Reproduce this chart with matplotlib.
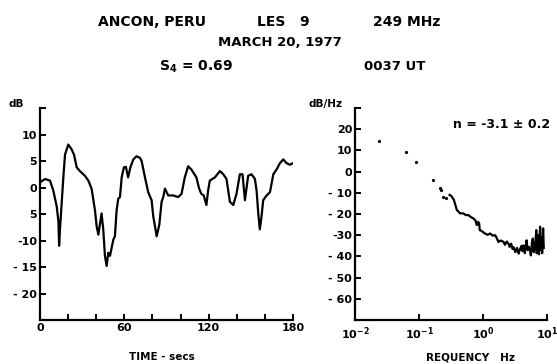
import numpy as np
import matplotlib.pyplot as plt
from matplotlib.ticker import FixedLocator, NullLocator

plt.rcParams['font.family'] = 'DejaVu Sans'
plt.rcParams['font.weight'] = 'bold'

# amplitude record (time in s, level in dB)
t_sec = [0, 3.6, 7.1, 9.5, 11.9, 13.1, 13.6, 14.2, 16.6, 17.8, 20.1, 22.5, 24.2,
         26.1, 28.4, 32.0, 34.4, 36.7, 39.1, 40.3, 41.5, 43.8, 45.0, 46.2, 47.4,
         48.6, 49.8, 52.2, 53.3, 54.5, 55.7, 56.9, 58.1, 59.7, 61.1, 62.7, 64.3,
         66.4, 68.7, 71.1, 72.3, 74.7, 77.0, 79.4, 80.6, 81.8, 83.0, 84.9, 86.5,
         87.7, 88.9, 91.2, 94.8, 98.3, 100.7, 103.0, 105.4, 107.7, 111.3, 113.2,
         114.8, 116.5, 118.4, 119.6, 120.8, 124.4, 128.0, 130.4, 132.7, 135.1,
         137.5, 139.8, 142.2, 144.1, 145.8, 148.1, 150.5, 152.9, 154.1, 155.3,
         156.4, 157.6, 158.8, 161.2, 163.6, 166.0, 168.3, 170.7, 173.1, 175.4,
         177.8, 180.0]
level_db = [1.0, 1.6, 1.3, -0.6, -3.6, -6.4, -11.0, -8.0, 1.9, 6.2, 8.1, 7.2, 6.2,
            3.8, 3.1, 2.2, 1.3, -0.2, -4.3, -7.3, -8.9, -4.9, -7.9, -12.9, -14.8,
            -12.3, -12.9, -9.8, -9.2, -4.3, -2.1, -1.8, 1.9, 3.8, 3.9, 1.9, 3.8,
            5.3, 5.9, 5.6, 5.0, 1.9, -0.9, -2.4, -5.5, -7.3, -9.2, -7.0, -2.7,
            -1.8, -0.2, -1.5, -1.5, -1.8, -1.2, 1.9, 4.0, 3.4, 1.9, -0.2,
            -1.2, -1.5, -3.3, -0.6, 1.3, 1.9, 3.1, 2.5, 1.6, -2.7,
            -3.3, -1.2, 2.5, 2.5, -2.4, 2.2, 2.5, 1.6, -0.6, -4.9,
            -7.9, -5.5, -2.4, -1.5, -0.9, 2.5, 3.4, 4.6, 5.3, 4.6,
            4.3, 4.6]

# power spectrum: sparse low-frequency points, then continuous trace
dot_hz = [0.024, 0.063, 0.089, 0.166, 0.21, 0.22, 0.24, 0.26]
dot_db = [14.4, 9.2, 4.4, -3.8, -7.8, -8.6, -11.8, -12.5]

spec_hz = [0.30, 0.32, 0.35, 0.39, 0.44, 0.49, 0.54, 0.59, 0.65, 0.71, 0.76, 0.80,
           0.84, 0.87, 0.89, 0.95, 1.07, 1.18, 1.29, 1.42, 1.55, 1.65, 1.74, 1.9,
           2.1, 2.2, 2.35, 2.5, 2.6, 2.75, 2.9, 3.0, 3.2, 3.4, 3.6, 3.8, 4.0, 4.15,
           4.3, 4.5, 4.65, 4.8, 5.0, 5.2, 5.4, 5.6, 5.8, 6.0, 6.2, 6.4, 6.6, 6.8,
           6.9, 7.1, 7.3, 7.5, 7.8, 8.0, 8.2, 8.4, 8.7, 8.9]
spec_db = [-11.0, -11.5, -13.3, -18.1, -19.7, -19.7, -20.5, -20.5, -21.5, -22.1, -23.0, -25.2,
           -23.7, -24.5, -27.6, -28.0, -29.2, -29.8, -29.2, -30.2, -30.0, -31.5, -33.2, -32.5,
           -33.2, -34.5, -33.0, -34.0, -35.5, -34.0, -36.5, -35.6, -38.0, -36.0, -38.7, -36.5, -35.0, -37.5,
           -34.8, -38.5, -36.0, -32.4, -37.0, -35.5, -37.1, -39.5, -34.0, -31.6, -38.0, -36.0, -33.0, -27.6,
           -38.5, -34.0, -30.0, -39.0, -26.0, -37.0, -31.0, -38.5, -26.8, -36.0]

left_yticks = [15, 10, 5, 0, -5, -10, -15, -20]
left_ylabels = ['', '10', '5', '0', '5', '-10', '- 15', '- 20']
left_xticks = [0, 20, 40, 60, 80, 100, 120, 140, 160, 180]
left_xlabels = ['0', '', '', '60', '', '', '120', '', '', '180']
right_yticks = [30, 20, 10, 0, -10, -20, -30, -40, -50, -60]
right_ylabels = ['', '20', '10', '0', '- 10', '- 20', '-30', '- 40', '- 50', '- 60']
right_xticks = [0.01, 0.1, 1, 10]
right_xlabels = [r'$10^{-2}$', r'$10^{-1}$', r'$10^{0}$', r'$10^{1}$']

W, H = 557, 364
fig = plt.figure(figsize=(W / 100, H / 100), dpi=100)

def fx(x):
    return x / W

def fy(y):
    return 1 - y / H

def style_axes(ax):
    for s in ['top', 'right']:
        ax.spines[s].set_visible(False)
    for s in ['left', 'bottom']:
        ax.spines[s].set_linewidth(1.6)
    ax.tick_params(direction='in', length=4, width=1.4, labelsize=8, pad=2)

# left panel: time series
ax1 = fig.add_axes([fx(40), fy(320), fx(293) - fx(40), fy(108) - fy(320)])
ax1.plot(t_sec, level_db, color='black', linewidth=1.6)
ax1.set_xlim(0, 180)
ax1.set_ylim(-25, 15)
ax1.xaxis.set_major_locator(FixedLocator(left_xticks))
ax1.set_xticklabels(left_xlabels, fontweight='bold')
ax1.yaxis.set_major_locator(FixedLocator(left_yticks))
ax1.set_yticklabels(left_ylabels, fontweight='bold')
style_axes(ax1)

# right panel: spectrum
ax2 = fig.add_axes([fx(355), fy(320), fx(547) - fx(355), fy(108) - fy(320)])
ax2.set_xscale('log')
ax2.plot(dot_hz, dot_db, linestyle='none', marker='o', markersize=1.3, color='black')
ax2.plot(spec_hz, spec_db, color='black', linewidth=1.6)
ax2.set_xlim(0.01, 10)
ax2.set_ylim(-70, 30)
ax2.xaxis.set_major_locator(FixedLocator(right_xticks))
ax2.xaxis.set_minor_locator(NullLocator())
ax2.set_xticklabels(right_xlabels)
ax2.yaxis.set_major_locator(FixedLocator(right_yticks))
ax2.set_yticklabels(right_ylabels, fontweight='bold')
style_axes(ax2)
ax2.tick_params(axis='x', pad=4)

# headings
fig.text(fx(152), fy(22), 'ANCON, PERU', ha='center', va='center', fontsize=10, fontweight='bold')
fig.text(fx(283), fy(22), 'LES   9', ha='center', va='center', fontsize=10, fontweight='bold')
fig.text(fx(407), fy(22), '249 MHz', ha='center', va='center', fontsize=10, fontweight='bold')
fig.text(fx(280), fy(43), 'MARCH 20, 1977', ha='center', va='center', fontsize=9.5, fontweight='bold')
fig.text(fx(196), fy(67), r'S$_{\mathbf{4}}$ = 0.69', ha='center', va='center', fontsize=10, fontweight='bold')
fig.text(fx(395), fy(67), '0037 UT', ha='center', va='center', fontsize=9.5, fontweight='bold')

# axis labels
fig.text(fx(16), fy(104), 'dB', ha='center', va='center', fontsize=7.5, fontweight='bold')
fig.text(fx(326), fy(104), 'dB/Hz', ha='center', va='center', fontsize=7.5, fontweight='bold')
fig.text(fx(162), fy(357), 'TIME - secs', ha='center', va='center', fontsize=7.5, fontweight='bold')
fig.text(fx(470), fy(358), 'REQUENCY   Hz', ha='center', va='center', fontsize=7.5, fontweight='bold')
fig.text(fx(550), fy(125), 'n = -3.1 \u00b1 0.2', ha='right', va='center', fontsize=9, fontweight='bold')

plt.savefig('out.png', dpi=100)
